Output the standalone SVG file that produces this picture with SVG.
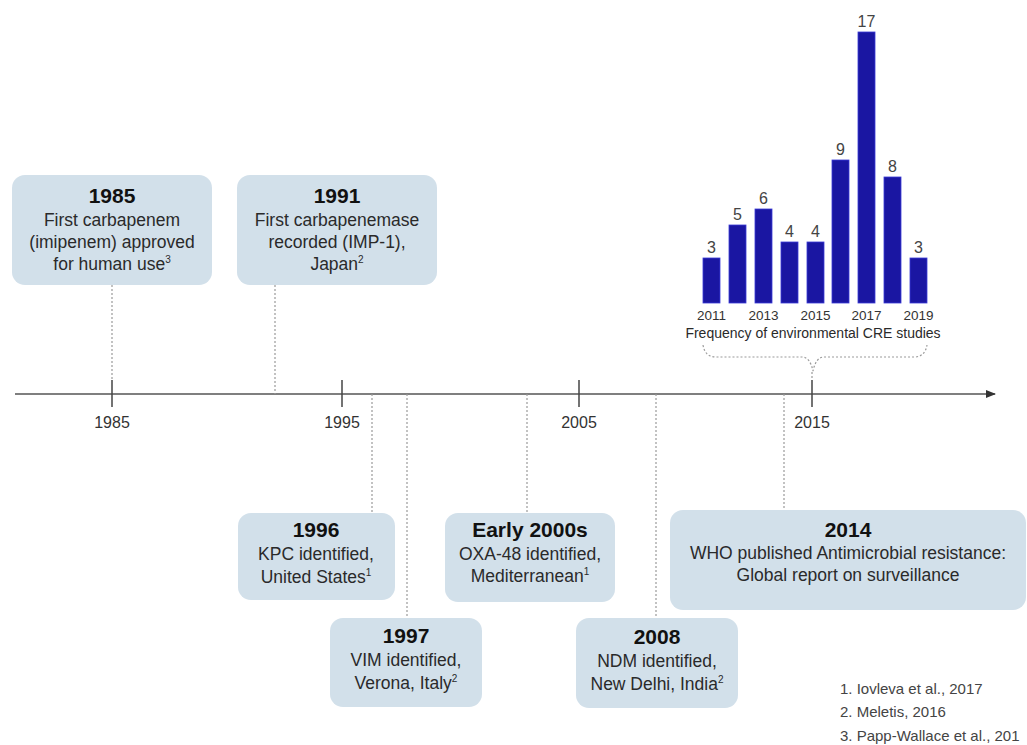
<svg xmlns="http://www.w3.org/2000/svg" width="1027" height="745" viewBox="0 0 1027 745">
<defs>
<marker id="arr" markerWidth="10" markerHeight="8" refX="9" refY="4" orient="auto" markerUnits="userSpaceOnUse">
<path d="M0,0 L10,4 L0,8 Z" fill="#333"/>
</marker>
<style>
.box{fill:#d2e0ea;}
.t{font-family:"Liberation Sans",Arial,sans-serif;fill:#2a2a2a;text-anchor:middle;}
.h{font-size:21px;font-weight:bold;fill:#111;}
.b{font-size:17.5px;}
.sup{font-size:10px;}
.yr{font-size:16px;fill:#333;}
.dot{stroke:#9a9a9a;stroke-width:1.2;stroke-dasharray:2,2;fill:none;}
.tick{stroke:#444;stroke-width:1.5;}
.bar{fill:#1a16a2;stroke:#3a3ad6;stroke-width:0.8;}
.val{font-size:16px;fill:#444;}
.cy{font-size:13.5px;fill:#333;}
.ref{font-family:"Liberation Sans",Arial,sans-serif;font-size:15px;fill:#444;}
</style>
</defs>
<rect width="1027" height="745" fill="#ffffff"/>

<g id="connectors">
<line x1="15" y1="394" x2="995" y2="394" stroke="#555" stroke-width="1.5" marker-end="url(#arr)"/>
<line class="tick" x1="112" y1="380" x2="112" y2="407"/>
<line class="tick" x1="342" y1="380" x2="342" y2="407"/>
<line class="tick" x1="579" y1="380" x2="579" y2="407"/>
<line class="tick" x1="812" y1="380" x2="812" y2="407"/>
<line class="dot" x1="112" y1="285" x2="112" y2="380"/>
<line class="dot" x1="275" y1="285" x2="275" y2="394"/>
<line class="dot" x1="372" y1="394" x2="372" y2="513"/>
<line class="dot" x1="407" y1="394" x2="407" y2="618"/>
<line class="dot" x1="527" y1="394" x2="527" y2="513"/>
<line class="dot" x1="656" y1="394" x2="656" y2="618"/>
<line class="dot" x1="784" y1="394" x2="784" y2="510"/>
<path class="dot" d="M703,345 Q705,357 716,357 L802,357 Q810,357 813,371 Q816,357 824,357 L914,357 Q925,357 927,345"/>
<line class="dot" x1="812" y1="372" x2="812" y2="380"/>
</g>

<g id="axis-labels">
<text class="t yr" x="112" y="428">1985</text>
<text class="t yr" x="342" y="428">1995</text>
<text class="t yr" x="579" y="428">2005</text>
<text class="t yr" x="812" y="428">2015</text>
</g>

<g id="node-1985">
<rect class="box" x="12" y="175" width="200" height="110" rx="13"/>
<text class="t h" x="112" y="203">1985</text>
<text class="t b" x="112" y="226">First carbapenem</text>
<text class="t b" x="112" y="248">(imipenem) approved</text>
<text class="t b" x="112" y="270">for human use<tspan class="sup" dy="-7">3</tspan></text>
</g>

<g id="node-1991">
<rect class="box" x="237" y="175" width="200" height="110" rx="13"/>
<text class="t h" x="337" y="203">1991</text>
<text class="t b" x="337" y="226">First carbapenemase</text>
<text class="t b" x="337" y="248">recorded (IMP-1),</text>
<text class="t b" x="337" y="270">Japan<tspan class="sup" dy="-7">2</tspan></text>
</g>

<g id="node-1996">
<rect class="box" x="238" y="513" width="157" height="87" rx="13"/>
<text class="t h" x="316" y="537">1996</text>
<text class="t b" x="316" y="560">KPC identified,</text>
<text class="t b" x="316" y="583">United States<tspan class="sup" dy="-7">1</tspan></text>
</g>

<g id="node-1997">
<rect class="box" x="330" y="618" width="152" height="89" rx="13"/>
<text class="t h" x="406" y="643">1997</text>
<text class="t b" x="406" y="666">VIM identified,</text>
<text class="t b" x="406" y="689">Verona, Italy<tspan class="sup" dy="-7">2</tspan></text>
</g>

<g id="node-early2000s">
<rect class="box" x="445" y="513" width="170" height="89" rx="13"/>
<text class="t h" x="530" y="537">Early 2000s</text>
<text class="t b" x="530" y="560">OXA-48 identified,</text>
<text class="t b" x="530" y="582">Mediterranean<tspan class="sup" dy="-7">1</tspan></text>
</g>

<g id="node-2008">
<rect class="box" x="576" y="618" width="162" height="90" rx="13"/>
<text class="t h" x="657" y="644">2008</text>
<text class="t b" x="657" y="667">NDM identified,</text>
<text class="t b" x="657" y="690">New Delhi, India<tspan class="sup" dy="-7">2</tspan></text>
</g>

<g id="node-2014">
<rect class="box" x="670" y="510" width="356" height="100" rx="13"/>
<text class="t h" x="848" y="537">2014</text>
<text class="t b" x="848" y="559">WHO published Antimicrobial resistance:</text>
<text class="t b" x="848" y="581">Global report on surveillance</text>
</g>

<g id="chart">
<rect class="bar" x="703" y="258" width="17" height="45"/>
<rect class="bar" x="729" y="225" width="17" height="78"/>
<rect class="bar" x="755" y="209" width="17" height="94"/>
<rect class="bar" x="781" y="242" width="17" height="61"/>
<rect class="bar" x="807" y="242" width="17" height="61"/>
<rect class="bar" x="832" y="160" width="17" height="143"/>
<rect class="bar" x="858" y="32" width="17" height="271"/>
<rect class="bar" x="884" y="177" width="17" height="126"/>
<rect class="bar" x="910" y="258" width="17" height="45"/>
<text class="t val" x="711.5" y="253">3</text>
<text class="t val" x="737.5" y="220">5</text>
<text class="t val" x="763.5" y="204">6</text>
<text class="t val" x="789.5" y="237">4</text>
<text class="t val" x="815.5" y="237">4</text>
<text class="t val" x="840.5" y="155">9</text>
<text class="t val" x="866.5" y="27">17</text>
<text class="t val" x="892.5" y="172">8</text>
<text class="t val" x="918.5" y="253">3</text>
<text class="t cy" x="711.5" y="320">2011</text>
<text class="t cy" x="763.5" y="320">2013</text>
<text class="t cy" x="815.5" y="320">2015</text>
<text class="t cy" x="866.5" y="320">2017</text>
<text class="t cy" x="918.5" y="320">2019</text>
<text class="t" x="813" y="338" font-size="14" fill="#333">Frequency of environmental CRE studies</text>
</g>

<g id="references">
<text class="ref" x="840" y="694">1. Iovleva et al., 2017</text>
<text class="ref" x="840" y="717">2. Meletis, 2016</text>
<text class="ref" x="840" y="741">3. Papp-Wallace et al., 201</text>
</g>
</svg>
